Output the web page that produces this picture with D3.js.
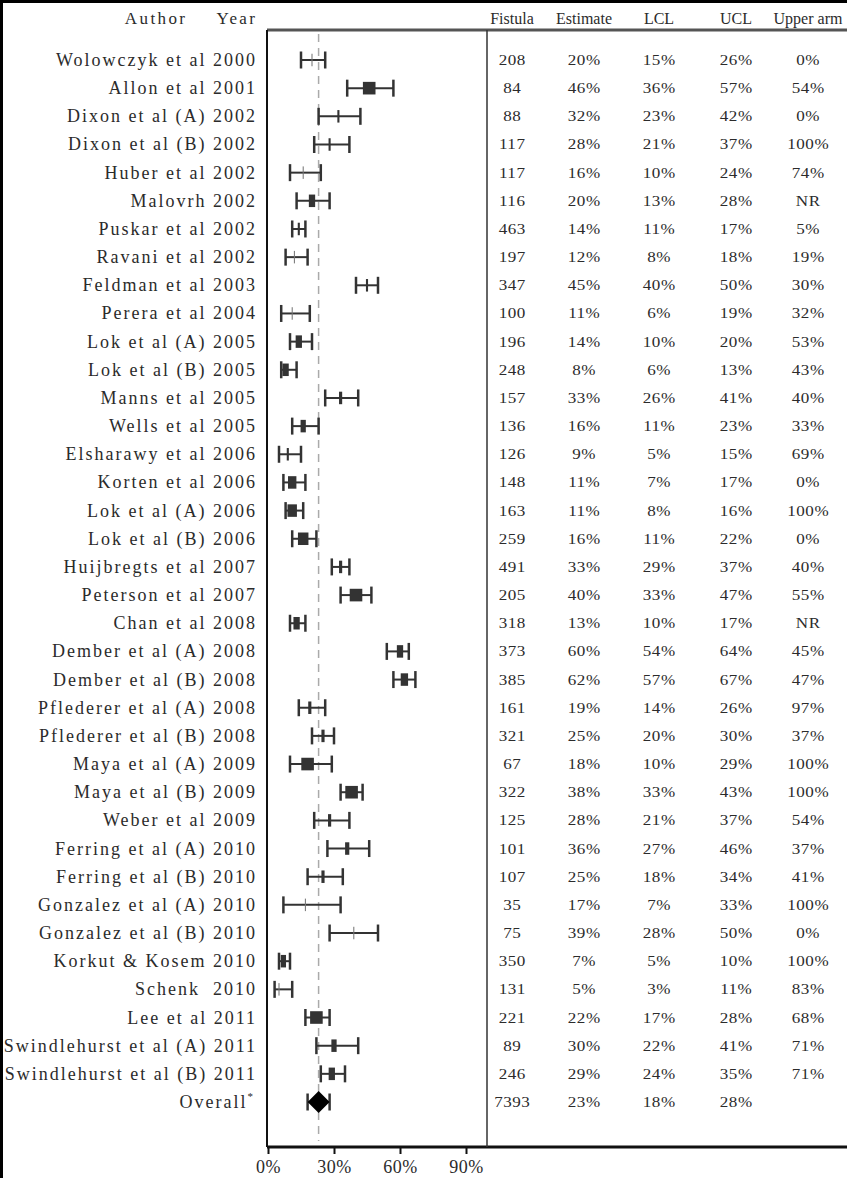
<!DOCTYPE html>
<html><head><meta charset="utf-8">
<script src="https://cdn.jsdelivr.net/npm/d3@7"></script>
<style>body{margin:0;background:#000;}svg{display:block;}</style>
</head><body><svg id="c" width="847" height="1178"></svg>
<script>
const authors = ["Wolowczyk et al 2000","Allon et al 2001","Dixon et al (A) 2002","Dixon et al (B) 2002","Huber et al 2002","Malovrh 2002","Puskar et al 2002","Ravani et al 2002","Feldman et al 2003","Perera et al 2004","Lok et al (A) 2005","Lok et al (B) 2005","Manns et al 2005","Wells et al 2005","Elsharawy et al 2006","Korten et al 2006","Lok et al (A) 2006","Lok et al (B) 2006","Huijbregts et al 2007","Peterson et al 2007","Chan et al 2008","Dember et al (A) 2008","Dember et al (B) 2008","Pflederer et al (A) 2008","Pflederer et al (B) 2008","Maya et al (A) 2009","Maya et al (B) 2009","Weber et al 2009","Ferring et al (A) 2010","Ferring et al (B) 2010","Gonzalez et al (A) 2010","Gonzalez et al (B) 2010","Korkut & Kosem 2010","Schenk  2010","Lee et al 2011","Swindlehurst et al (A) 2011","Swindlehurst et al (B) 2011"];
const fistula = [208,84,88,117,117,116,463,197,347,100,196,248,157,136,126,148,163,259,491,205,318,373,385,161,321,67,322,125,101,107,35,75,350,131,221,89,246];
const estimate = [20,46,32,28,16,20,14,12,45,11,14,8,33,16,9,11,11,16,33,40,13,60,62,19,25,18,38,28,36,25,17,39,7,5,22,30,29];
const lcl = [15,36,23,21,10,13,11,8,40,6,10,6,26,11,5,7,8,11,29,33,10,54,57,14,20,10,33,21,27,18,7,28,5,3,17,22,24];
const ucl = [26,57,42,37,24,28,17,18,50,19,20,13,41,23,15,17,16,22,37,47,17,64,67,26,30,29,43,37,46,34,33,50,10,11,28,41,35];
const upperArm = ["0%","54%","0%","100%","74%","NR","5%","19%","30%","32%","53%","43%","40%","33%","69%","0%","100%","0%","40%","55%","NR","45%","47%","97%","37%","100%","100%","54%","37%","41%","100%","0%","100%","83%","68%","71%","71%"];
// relative study weight (marker width)
const weight = [1,12,2,2,1,6,2,1,2,1,6,6,3,5,2,8,9,10,3,12,6,6,7,3,3,12,12,3,4,3,1,1,5,1,12,5,6];
const overall = {label:"Overall", fistula:7393, estimate:23, lcl:18, ucl:28};
const headers = ["Fistula","Estimate","LCL","UCL","Upper arm"];
const axisTicks = [0,30,60,90];

const svg = d3.select("#c");
const W=847,H=1178;
svg.append("rect").attr("x",3).attr("y",3).attr("width",W-3).attr("height",H-3).attr("fill","#fff");

const x = d3.scaleLinear().domain([0,100]).range([268,488]);
const rowsAll = authors.concat([overall.label]);
const y = d3.scalePoint().domain(rowsAll).range([60,1102]);
const colX = [512,584,659,736,808];
const ink="#2b2b2b";
const serif="'Liberation Serif','Times New Roman',serif";

// frame
const fTop=30,fBottom=1147,fLeft=267,fDiv=487;
svg.append("line").attr("x1",fLeft).attr("x2",W).attr("y1",fTop).attr("y2",fTop).attr("stroke","#555").attr("stroke-width",3);
svg.append("line").attr("x1",fLeft).attr("x2",W).attr("y1",fBottom).attr("y2",fBottom).attr("stroke","#111").attr("stroke-width",3);
svg.append("line").attr("x1",fLeft).attr("x2",fLeft).attr("y1",fTop).attr("y2",fBottom).attr("stroke","#111").attr("stroke-width",2);
svg.append("line").attr("x1",fDiv).attr("x2",fDiv).attr("y1",fTop).attr("y2",fBottom).attr("stroke","#333").attr("stroke-width",1.5);

// reference dashed line
svg.append("line").attr("x1",x(overall.estimate)).attr("x2",x(overall.estimate)).attr("y1",fTop+4).attr("y2",fBottom-6)
  .attr("stroke","#aaa").attr("stroke-width",1.5).attr("stroke-dasharray","8,6");

// header
[["Author",185],["Year",255]].forEach(([t,xx])=>
  svg.append("text").attr("x",xx+2.4).attr("y",24).attr("text-anchor","end").attr("font-family",serif)
    .attr("font-size",17).attr("letter-spacing",2.4).attr("fill",ink).text(t));
svg.selectAll("text.hdr").data(headers).enter().append("text").attr("class","hdr")
  .attr("x",(d,i)=>colX[i]).attr("y",24).attr("text-anchor","middle").attr("font-family",serif)
  .attr("font-size",16).attr("fill",ink).text(d=>d);

// labels
const labLS=2.0;
svg.selectAll("text.lab").data(authors).enter().append("text").attr("class","lab")
  .attr("x",255+labLS).attr("y",d=>y(d)+6).attr("text-anchor","end").attr("font-family",serif)
  .attr("font-size",18).attr("letter-spacing",labLS).attr("fill",ink).style("white-space","pre").text(d=>d);
const ov = svg.append("text").attr("x",255).attr("y",y(overall.label)+6).attr("text-anchor","end")
  .attr("font-family",serif).attr("font-size",18).attr("letter-spacing",labLS).attr("fill",ink);
ov.append("tspan").text(overall.label);
ov.append("tspan").attr("dy",-8).attr("font-size",11).text("*");

// CIs
const capH=17;
const g = svg.append("g");
authors.forEach((a,i)=>{
  const cy=y(a);
  g.append("line").attr("x1",x(lcl[i])).attr("x2",x(ucl[i])).attr("y1",cy).attr("y2",cy).attr("stroke","#333").attr("stroke-width",2);
  [lcl[i],ucl[i]].forEach(v=>g.append("line").attr("x1",x(v)).attr("x2",x(v)).attr("y1",cy-capH/2).attr("y2",cy+capH/2).attr("stroke","#333").attr("stroke-width",2.5));
  const w=weight[i]*1.05, h=Math.max(w,12.5);
  g.append("rect").attr("x",x(estimate[i])-w/2).attr("y",cy-h/2).attr("width",w).attr("height",h)
    .attr("fill", weight[i]<=1?"#777":"#333");
});
// overall
{
  const cy=y(overall.label);
  g.append("line").attr("x1",x(overall.lcl)).attr("x2",x(overall.ucl)).attr("y1",cy).attr("y2",cy).attr("stroke","#333").attr("stroke-width",2);
  [overall.lcl,overall.ucl].forEach(v=>g.append("line").attr("x1",x(v)).attr("x2",x(v)).attr("y1",cy-capH/2).attr("y2",cy+capH/2).attr("stroke","#333").attr("stroke-width",2.5));
  const cx=x(overall.estimate);
  g.append("path").attr("d",`M${cx-11},${cy}L${cx},${cy-11}L${cx+11},${cy}L${cx},${cy+11}Z`).attr("fill","#000");
}

// table
const tbl = svg.append("g").attr("font-family",serif).attr("font-size",14).attr("letter-spacing",0.4).attr("fill",ink).attr("text-anchor","middle");
function cell(v,cx,cy){
  tbl.append("text").attr("transform",`translate(${cx+0.2},${cy}) scale(1.22,1)`).text(v);
}
authors.forEach((a,i)=>{
  const vals=[fistula[i],estimate[i]+"%",lcl[i]+"%",ucl[i]+"%",upperArm[i]];
  vals.forEach((v,j)=>cell(v,colX[j],y(a)+5));
});
[overall.fistula,overall.estimate+"%",overall.lcl+"%",overall.ucl+"%"].forEach((v,j)=>cell(v,colX[j],y(overall.label)+5));

// axis
const ax = svg.append("g").attr("transform",`translate(0,${fBottom})`)
  .call(d3.axisBottom(x).tickValues(axisTicks).tickFormat(d=>d+"%").tickSize(7).tickPadding(6));
ax.select(".domain").remove();
ax.selectAll(".tick line").attr("stroke","#111").attr("stroke-width",2);
ax.selectAll(".tick text").attr("font-family",serif).attr("font-size",18).attr("fill",ink).attr("letter-spacing",0.5);
</script></body></html>
